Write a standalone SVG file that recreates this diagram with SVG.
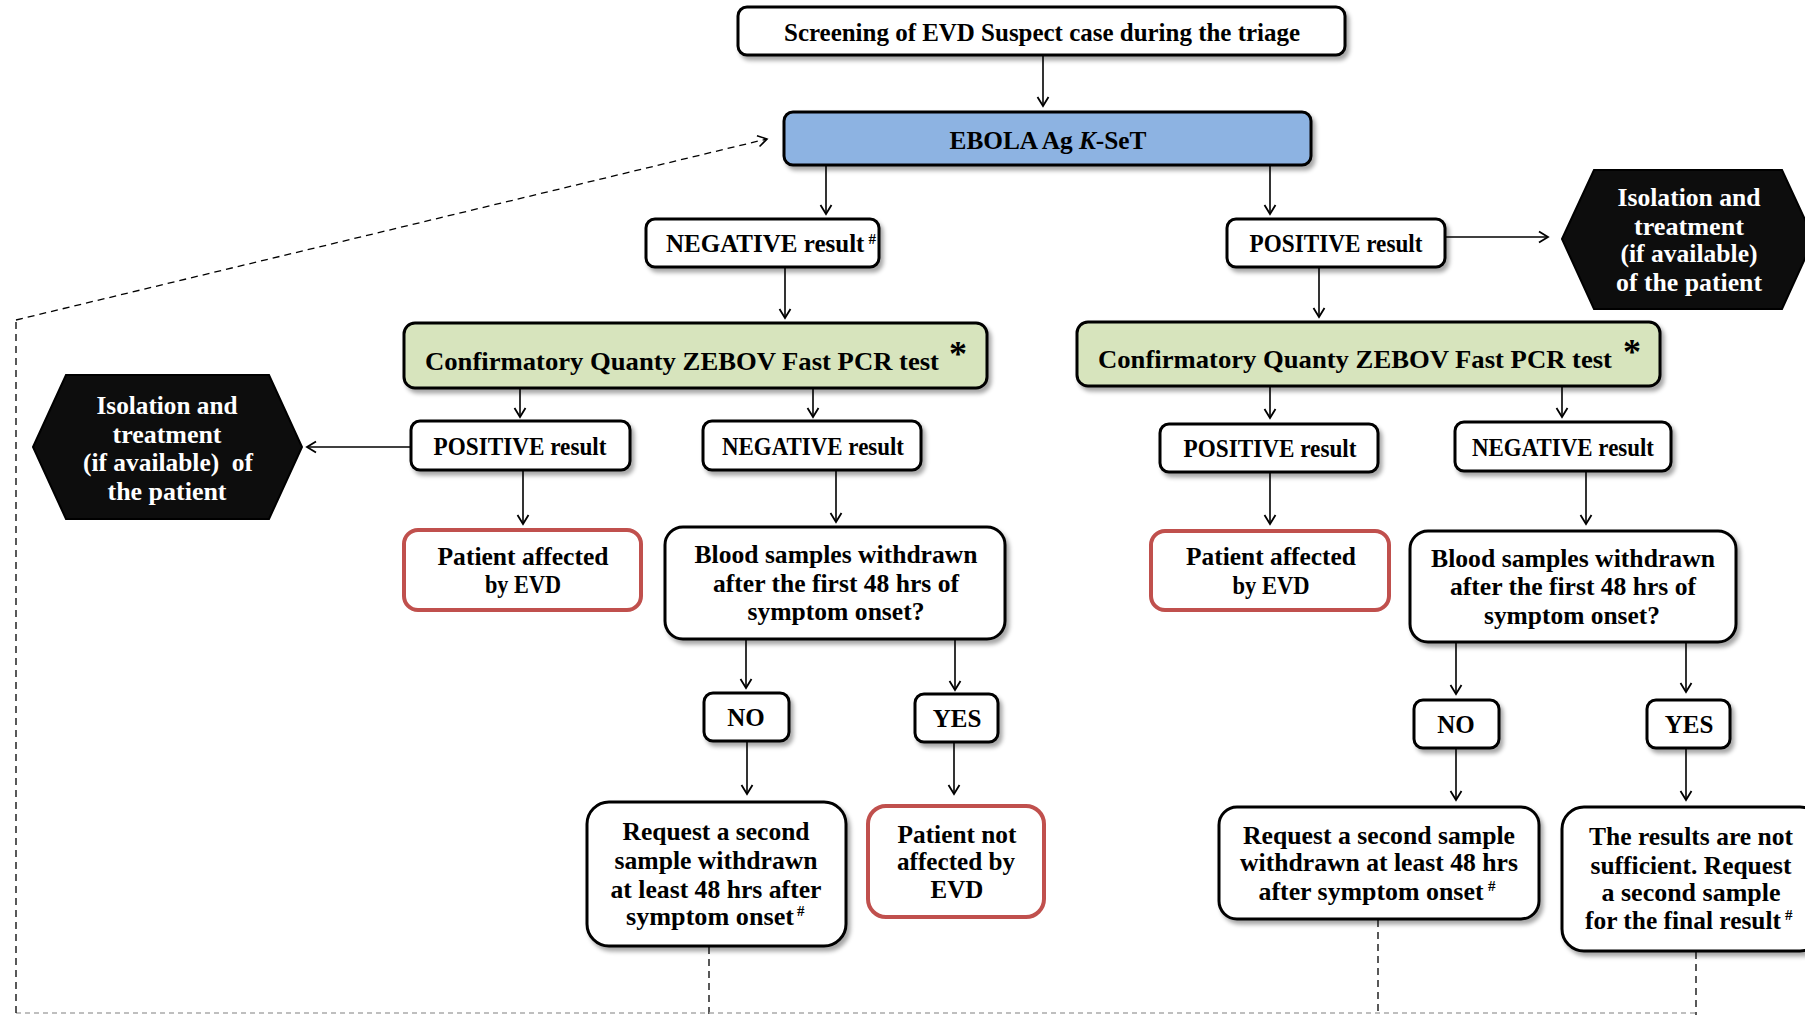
<svg xmlns="http://www.w3.org/2000/svg" width="1805" height="1015" viewBox="0 0 1805 1015">
<defs>
<filter id="sh" x="-10%" y="-10%" width="130%" height="140%">
<feDropShadow dx="3" dy="4" stdDeviation="2" flood-color="#000" flood-opacity="0.35"/>
</filter>
<marker id="ah" markerUnits="userSpaceOnUse" markerWidth="14" markerHeight="14" refX="11" refY="7" orient="auto">
<path d="M2,1.5 L11,7 L2,12.5" fill="none" stroke="#000" stroke-width="1.8"/>
</marker>
<marker id="ahd" markerUnits="userSpaceOnUse" markerWidth="14" markerHeight="14" refX="11" refY="7" orient="auto">
<path d="M2,1.5 L11,7 L2,12.5" fill="none" stroke="#000" stroke-width="1.6"/>
</marker>
</defs>
<style>
text{font-family:"Liberation Serif","DejaVu Serif",serif;font-weight:bold;font-size:25px;fill:#000;text-anchor:middle}
.w{fill:#fff}
.g{font-size:26px}
.sup{font-size:15px;text-anchor:start}
.ast{font-size:36px}
.box{fill:#fff;stroke:#000;stroke-width:3;filter:url(#sh)}
.red{fill:#fff;stroke:#c0504d;stroke-width:4}
.blue{fill:#8db3e2;stroke:#000;stroke-width:3;filter:url(#sh)}
.green{fill:#d7e4bd;stroke:#000;stroke-width:3;filter:url(#sh)}
.hex{fill:#0d0d0d;stroke:#000;stroke-width:2}
.c{stroke:#000;stroke-width:1.6;fill:none;marker-end:url(#ah)}
.d{stroke:#000;stroke-width:1.3;fill:none;stroke-dasharray:7,5}
</style>

<g id="connectors">
<line class="c" x1="1043" y1="56" x2="1043" y2="106"/>
<line class="c" x1="826" y1="166" x2="826" y2="214"/>
<line class="c" x1="1270" y1="166" x2="1270" y2="214"/>
<line class="c" x1="1446" y1="237" x2="1548" y2="237"/>
<line class="c" x1="785" y1="268" x2="785" y2="318"/>
<line class="c" x1="1319" y1="268" x2="1319" y2="317"/>
<line class="c" x1="520" y1="389" x2="520" y2="417"/>
<line class="c" x1="813" y1="389" x2="813" y2="417"/>
<line class="c" x1="1270" y1="387" x2="1270" y2="418"/>
<line class="c" x1="1562" y1="387" x2="1562" y2="417"/>
<line class="c" x1="410" y1="447" x2="307" y2="447"/>
<line class="c" x1="523" y1="471" x2="523" y2="524"/>
<line class="c" x1="836" y1="471" x2="836" y2="522"/>
<line class="c" x1="1270" y1="473" x2="1270" y2="524"/>
<line class="c" x1="1586" y1="472" x2="1586" y2="524"/>
<line class="c" x1="746" y1="640" x2="746" y2="688"/>
<line class="c" x1="955" y1="640" x2="955" y2="690"/>
<line class="c" x1="747" y1="742" x2="747" y2="794"/>
<line class="c" x1="954" y1="743" x2="954" y2="794"/>
<line class="c" x1="1456" y1="643" x2="1456" y2="694"/>
<line class="c" x1="1686" y1="643" x2="1686" y2="692"/>
<line class="c" x1="1456" y1="749" x2="1456" y2="800"/>
<line class="c" x1="1686" y1="749" x2="1686" y2="800"/>
<line class="d" x1="709" y1="947" x2="709" y2="1015"/>
<line class="d" x1="1378" y1="920" x2="1378" y2="1015"/>
<line class="d" x1="1696" y1="952" x2="1696" y2="1015"/>
<line x1="16" y1="1013" x2="1696" y2="1013" stroke="#aaa" stroke-width="1.3" stroke-dasharray="5,4"/>
<line class="d" x1="16" y1="1013" x2="16" y2="320" stroke-dasharray="8,6"/>
<line class="d" x1="16" y1="320" x2="767" y2="139" stroke-dasharray="6,4" marker-end="url(#ahd)"/>
</g>

<g id="screening">
<rect class="box" x="738" y="7" width="607" height="48" rx="9"/>
<text x="1042" y="41" textLength="516" lengthAdjust="spacingAndGlyphs">Screening of EVD Suspect case during the triage</text>
</g>

<g id="ebola">
<rect class="blue" x="784" y="112" width="527" height="53" rx="9"/>
<text x="1048" y="149" textLength="197" lengthAdjust="spacingAndGlyphs">EBOLA Ag <tspan font-style="italic">K</tspan>-SeT</text>
</g>

<g id="neg-top">
<rect class="box" x="646" y="219" width="233" height="48" rx="9"/>
<text x="666" y="252" font-size="21.5" style="text-anchor:start">NEGATIVE result<tspan dx="4" dy="-8" font-size="15">#</tspan></text>
</g>

<g id="pos-top">
<rect class="box" x="1227" y="219" width="218" height="48" rx="9"/>
<text x="1336" y="252" textLength="173" lengthAdjust="spacingAndGlyphs">POSITIVE result</text>
</g>

<g id="iso-right">
<polygon class="hex" points="1562,239 1594,170 1782,170 1814,239 1782,309 1594,309"/>
<text class="w" x="1689" y="206" textLength="143" lengthAdjust="spacingAndGlyphs">Isolation and</text>
<text class="w" x="1689" y="235" textLength="110" lengthAdjust="spacingAndGlyphs">treatment</text>
<text class="w" x="1689" y="262" textLength="137" lengthAdjust="spacingAndGlyphs">(if available)</text>
<text class="w" x="1689" y="291" textLength="146" lengthAdjust="spacingAndGlyphs">of the patient</text>
</g>

<g id="pcr-left">
<rect class="green" x="404" y="323" width="583" height="65" rx="11"/>
<text class="g" x="682" y="370" textLength="514" lengthAdjust="spacingAndGlyphs">Confirmatory Quanty ZEBOV Fast PCR test</text>
<text class="ast" x="958" y="366">*</text>
</g>

<g id="pcr-right">
<rect class="green" x="1077" y="322" width="583" height="64" rx="11"/>
<text class="g" x="1355" y="368" textLength="514" lengthAdjust="spacingAndGlyphs">Confirmatory Quanty ZEBOV Fast PCR test</text>
<text class="ast" x="1632" y="364">*</text>
</g>

<g id="pos-left">
<rect class="box" x="411" y="421" width="219" height="49" rx="9"/>
<text x="520" y="455" textLength="173" lengthAdjust="spacingAndGlyphs">POSITIVE result</text>
</g>

<g id="neg-left">
<rect class="box" x="703" y="421" width="218" height="49" rx="9"/>
<text x="813" y="455" textLength="182" lengthAdjust="spacingAndGlyphs">NEGATIVE result</text>
</g>

<g id="iso-left">
<polygon class="hex" points="33,447 66,375 269,375 302,447 269,519 66,519"/>
<text class="w" x="167" y="414" textLength="141" lengthAdjust="spacingAndGlyphs">Isolation and</text>
<text class="w" x="167" y="443" textLength="109" lengthAdjust="spacingAndGlyphs">treatment</text>
<text class="w" x="168" y="471" textLength="170" lengthAdjust="spacingAndGlyphs" xml:space="preserve">(if available)  of</text>
<text class="w" x="167" y="500" textLength="119" lengthAdjust="spacingAndGlyphs">the patient</text>
</g>

<g id="pos-right">
<rect class="box" x="1160" y="424" width="218" height="48" rx="9"/>
<text x="1270" y="457" textLength="173" lengthAdjust="spacingAndGlyphs">POSITIVE result</text>
</g>

<g id="neg-right">
<rect class="box" x="1455" y="422" width="216" height="49" rx="9"/>
<text x="1563" y="456" textLength="182" lengthAdjust="spacingAndGlyphs">NEGATIVE result</text>
</g>

<g id="affected-left">
<rect class="red" x="404" y="530" width="237" height="80" rx="14"/>
<text x="523" y="565" textLength="171" lengthAdjust="spacingAndGlyphs">Patient affected</text>
<text x="523" y="593" textLength="76" lengthAdjust="spacingAndGlyphs">by EVD</text>
</g>

<g id="blood-left">
<rect class="box" x="665" y="527" width="340" height="112" rx="18"/>
<text x="836" y="563" textLength="283" lengthAdjust="spacingAndGlyphs">Blood samples withdrawn</text>
<text x="836" y="592" textLength="246" lengthAdjust="spacingAndGlyphs">after the first 48 hrs of</text>
<text x="836" y="620" textLength="177" lengthAdjust="spacingAndGlyphs">symptom onset?</text>
</g>

<g id="affected-right">
<rect class="red" x="1151" y="531" width="238" height="79" rx="14"/>
<text x="1271" y="565" textLength="170" lengthAdjust="spacingAndGlyphs">Patient affected</text>
<text x="1271" y="594" textLength="77" lengthAdjust="spacingAndGlyphs">by EVD</text>
</g>

<g id="blood-right">
<rect class="box" x="1410" y="531" width="326" height="111" rx="18"/>
<text x="1573" y="567" textLength="284" lengthAdjust="spacingAndGlyphs">Blood samples withdrawn</text>
<text x="1573" y="595" textLength="246" lengthAdjust="spacingAndGlyphs">after the first 48 hrs of</text>
<text x="1572" y="624" textLength="176" lengthAdjust="spacingAndGlyphs">symptom onset?</text>
</g>

<g id="no-left">
<rect class="box" x="704" y="693" width="85" height="48" rx="9"/>
<text x="746" y="726">NO</text>
</g>

<g id="yes-left">
<rect class="box" x="915" y="694" width="83" height="48" rx="9"/>
<text x="957" y="727">YES</text>
</g>

<g id="no-right">
<rect class="box" x="1414" y="700" width="85" height="48" rx="9"/>
<text x="1456" y="733">NO</text>
</g>

<g id="yes-right">
<rect class="box" x="1647" y="700" width="83" height="48" rx="9"/>
<text x="1689" y="733">YES</text>
</g>

<g id="request-left">
<rect class="box" x="587" y="802" width="259" height="144" rx="22"/>
<text x="716" y="840" textLength="187" lengthAdjust="spacingAndGlyphs">Request a second</text>
<text x="716" y="869" textLength="203" lengthAdjust="spacingAndGlyphs">sample withdrawn</text>
<text x="716" y="898" textLength="211" lengthAdjust="spacingAndGlyphs">at least 48 hrs after</text>
<text x="710" y="925" textLength="168" lengthAdjust="spacingAndGlyphs">symptom onset</text>
<text class="sup" x="797" y="916">#</text>
</g>

<g id="not-affected">
<rect class="red" x="868" y="806" width="176" height="111" rx="18"/>
<text x="957" y="843" textLength="119" lengthAdjust="spacingAndGlyphs">Patient not</text>
<text x="956" y="870" textLength="118" lengthAdjust="spacingAndGlyphs">affected by</text>
<text x="957" y="898">EVD</text>
</g>

<g id="request-right">
<rect class="box" x="1219" y="807" width="320" height="112" rx="18"/>
<text x="1379" y="844" textLength="272" lengthAdjust="spacingAndGlyphs">Request a second sample</text>
<text x="1379" y="871" textLength="278" lengthAdjust="spacingAndGlyphs">withdrawn at least 48 hrs</text>
<text x="1371" y="900" textLength="225" lengthAdjust="spacingAndGlyphs">after symptom onset</text>
<text class="sup" x="1488" y="891">#</text>
</g>

<g id="results">
<rect class="box" x="1562" y="807" width="260" height="144" rx="22"/>
<text x="1691" y="845" textLength="204" lengthAdjust="spacingAndGlyphs">The results are not</text>
<text x="1691" y="874" textLength="201" lengthAdjust="spacingAndGlyphs">sufficient. Request</text>
<text x="1691" y="901" textLength="179" lengthAdjust="spacingAndGlyphs">a second sample</text>
<text x="1683" y="929" textLength="196" lengthAdjust="spacingAndGlyphs">for the final result</text>
<text class="sup" x="1785" y="920">#</text>
</g>
</svg>
